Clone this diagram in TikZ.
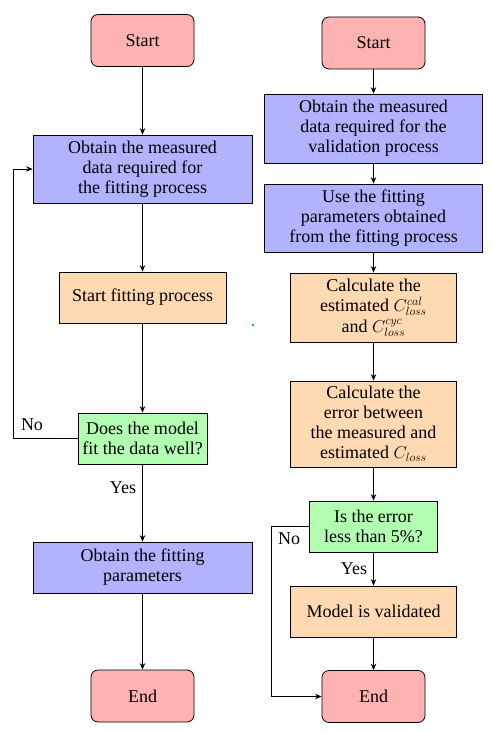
\documentclass[tikz,border=0pt]{standalone}
\usepackage{fontspec}
\setmainfont{Liberation Serif}
\usetikzlibrary{arrows.meta}
\definecolor{dotcyan}{RGB}{0,165,200}
\begin{document}
\begin{tikzpicture}[x=1pt,y=1pt,
  base/.style={draw, rectangle, align=center, inner sep=0pt, line width=0.8pt,
    font=\fontsize{18}{20}\selectfont},
  term/.style={base, rounded corners=7pt, fill=red!30, minimum width=103pt, minimum height=52pt},
  procb/.style={base, fill=blue!30},
  proco/.style={base, fill=orange!30},
  decg/.style={base, fill=green!30},
  flow/.style={-{Stealth[length=6.5pt,width=5.5pt,inset=2.2pt]}, line width=0.8pt},
  lbl/.style={font=\fontsize{18}{20}\selectfont, inner sep=0pt}
]
\useasboundingbox (0,0) rectangle (494,-733);
% left column
\node[term] (ls) at (142.5,-40.5) {Start};
\node[procb, minimum width=219pt, minimum height=68pt] (lo) at (142.5,-169) {Obtain the measured\\data required for\\the fitting process};
\node[proco, minimum width=167pt, minimum height=51pt] (lf) at (142.5,-297.5) {Start fitting process};
\node[decg, minimum width=129pt, minimum height=51pt] (lg) at (142.5,-438.5) {Does the model\\fit the data well?};
\node[procb, minimum width=219pt, minimum height=51pt] (lp) at (142.5,-567.5) {Obtain the fitting\\parameters};
\node[term] (le) at (142.5,-696) {End};
\coordinate (lc) at (13,-438.5);
\draw[flow] (ls) -- (lo);
\draw[flow] (lo) -- (lf);
\draw[flow] (lf) -- (lg);
\draw[flow] (lg) -- (lp);
\draw[flow] (lp) -- (le);
\draw[flow] (lg.west) -- (lc) |- (lo.west);
\node[lbl] (lno) at (32,-425) {No};
\node[lbl] (lyes) at (123,-488) {Yes};
% right column
\node[term] (rs) at (373.5,-43) {Start};
\node[procb, minimum width=218pt, minimum height=69pt] (rb1) at (373.5,-128.5) {Obtain the measured\\data required for the\\validation process};
\node[procb, minimum width=218pt, minimum height=68pt] (rb2) at (373.5,-218) {Use the fitting\\parameters obtained\\from the fitting process};
\node[proco, minimum width=166pt, minimum height=69pt] (rc) at (373.5,-307.5) {Calculate the\\[0.5pt]estimated $C_{loss}^{cal}$\\[1pt]and $C_{loss}^{cyc}$};
\node[proco, minimum width=166pt, minimum height=86pt] (re) at (373.5,-424) {Calculate the\\error between\\the measured and\\estimated $C_{loss}$};
\node[decg, minimum width=128pt, minimum height=51pt] (rg) at (373.5,-526.5) {Is the error\\less than 5\%?};
\node[proco, minimum width=166pt, minimum height=51pt] (rm) at (373.5,-611.5) {Model is validated};
\node[term] (ren) at (373.5,-696.5) {End};
\coordinate (rcn) at (271,-526.5);
\draw[flow] (rs) -- (rb1);
\draw[flow] (rb1) -- (rb2);
\draw[flow] (rb2) -- (rc);
\draw[flow] (rc) -- (re);
\draw[flow] (re) -- (rg);
\draw[flow] (rg) -- (rm);
\draw[flow] (rm) -- (ren);
\draw[flow] (rg.west) -- (rcn) |- (ren.west);
\node[lbl] (rno) at (289,-539) {No};
\node[lbl] (ryes) at (354,-569) {Yes};
\fill[dotcyan] (253,-325) circle (1.3pt);
\end{tikzpicture}
\end{document}
